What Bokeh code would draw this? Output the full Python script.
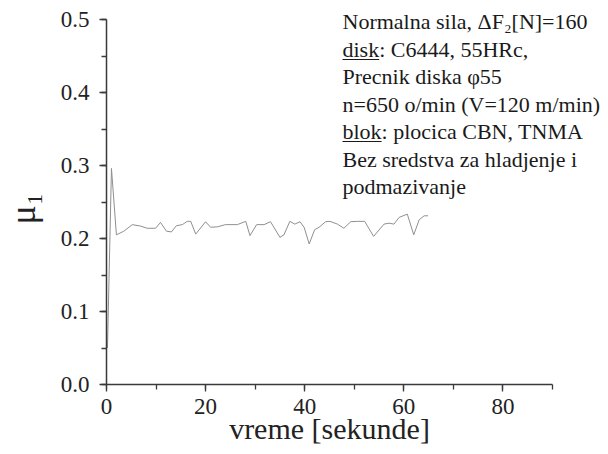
import math
from bokeh.plotting import figure
from bokeh.models import Label, SingleIntervalTicker, NumeralTickFormatter, Range1d
from bokeh.embed import file_html
from bokeh.resources import INLINE

# ---- data ----
time_s = [0.2, 1.0, 2.0, 3.5, 5.2, 6.9, 8.2, 9.9, 10.9, 12.1, 13.1, 14.1, 15.3, 16.3, 17.0,
          18.0, 20.0, 21.0, 22.4, 24.0, 26.4, 28.1, 28.95, 30.3, 31.8, 33.1, 35.0, 35.8,
          37.0, 38.0, 39.05, 39.9, 40.9, 42.0, 42.9, 44.2, 45.1, 46.6, 47.9, 49.3, 50.6,
          52.1, 53.9, 56.0, 57.0, 58.0, 59.05, 60.7, 62.0, 63.1, 64.1, 64.9]
mu_1 = [0.05, 0.296, 0.205, 0.210, 0.219, 0.217, 0.214, 0.214, 0.222, 0.210, 0.209, 0.2175,
        0.219, 0.2235, 0.2235, 0.206, 0.223, 0.2154, 0.216, 0.219, 0.219, 0.2235, 0.204,
        0.219, 0.219, 0.223, 0.2016, 0.205, 0.2235, 0.2197, 0.223, 0.215, 0.1925, 0.212,
        0.2154, 0.223, 0.2235, 0.2197, 0.214, 0.223, 0.2235, 0.2235, 0.2029, 0.2197, 0.221,
        0.2197, 0.2289, 0.2334, 0.205, 0.2257, 0.2311, 0.2311]
x_limits = (0, 90)
y_limits = (0, 0.5)
x_ticks_interval = 20
y_ticks_interval = 0.1
x_title = "vreme [sekunde]"
y_title = "\u03bc\u2081"
note_lines = [
    "Normalna sila, \u0394F\u2082[N]=160",
    "disk: C6444, 55HRc,",
    "Precnik diska \u03c655",
    "n=650 o/min (V=120 m/min)",
    "blok: plocica CBN, TNMA",
    "Bez sredstva za hladjenje i",
    "podmazivanje",
]
underlined_words = {1: "disk", 4: "blok"}

FONT = "Liberation Serif"
AX = "#3a3a3a"
W, H = 608, 454

# reference layout in canvas pixels: x=0 at 106, x=90 at 552; y=0 at 384, y=0.5 at 19
X0_PX, X1_PX, Y0_PX, Y1_PX = 106, 552, 384, 19
sx = (X1_PX - X0_PX) / (x_limits[1] - x_limits[0])
sy = (Y0_PX - Y1_PX) / (y_limits[1] - y_limits[0])

def px_x(px):
    return x_limits[0] + (px - X0_PX) / sx

def px_y(py):
    return y_limits[0] + (Y0_PX - py) / sy

# the plot frame spans the whole canvas; the axes sit at x=0 and y=0 inside it,
# so that no tick label or text is clipped
p = figure(width=W, height=H, output_backend="svg", toolbar_location=None,
           x_range=Range1d(px_x(0), px_x(W)), y_range=Range1d(px_y(H), px_y(0)),
           min_border_left=0, min_border_right=0, min_border_top=0, min_border_bottom=0)
p.outline_line_color = None
p.grid.grid_line_color = None
p.background_fill_color = "white"
p.border_fill_color = "white"

p.line(time_s, mu_1, line_color="#8f8f8f", line_width=1)

for ax in (p.xaxis[0], p.yaxis[0]):
    ax.axis_line_color = AX
    ax.axis_line_width = 1.5
    ax.major_tick_line_color = AX
    ax.minor_tick_line_color = AX
    ax.major_tick_line_width = 1.3
    ax.minor_tick_line_width = 1.3
    ax.major_tick_in = 0
    ax.minor_tick_in = 0
    ax.major_tick_out = 7
    ax.minor_tick_out = 5
    ax.major_label_text_font = FONT
    ax.major_label_text_font_size = "23px"
    ax.major_label_text_color = "#222222"

p.xaxis.bounds = x_limits
p.yaxis.bounds = y_limits
p.xaxis.fixed_location = y_limits[0]
p.yaxis.fixed_location = x_limits[0]
p.xaxis.ticker = SingleIntervalTicker(interval=x_ticks_interval, num_minor_ticks=2)
p.yaxis.ticker = SingleIntervalTicker(interval=y_ticks_interval, num_minor_ticks=2)
p.yaxis.formatter = NumeralTickFormatter(format="0.0")
p.xaxis.major_label_standoff = 7
p.yaxis.major_label_standoff = 10

# axis titles
p.add_layout(Label(x=(x_limits[0] + x_limits[1]) / 2, y=px_y(428), text=x_title,
                   text_font=FONT, text_font_size="30px", text_color="#222222",
                   text_baseline="alphabetic", text_align="center"))
p.add_layout(Label(x=px_x(22), y=px_y(208), text=y_title, angle=math.pi / 2,
                   text_font=FONT, text_font_size="36px", text_color="#222222",
                   text_baseline="middle", text_align="center"))

# annotation block
note_x = 342
baselines = [27, 55, 82, 110, 137, 165, 192]
word_w = {"disk": 36.7, "blok": 39.1}
for i, (txt, by) in enumerate(zip(note_lines, baselines)):
    p.add_layout(Label(x=px_x(note_x), y=px_y(by - 6), text=txt, text_font=FONT,
                       text_font_size="22px", text_color="#1a1a1a",
                       text_baseline="alphabetic", text_align="left"))
    if i in underlined_words:
        w = word_w[underlined_words[i]]
        p.segment(x0=[px_x(note_x)], y0=[px_y(by + 4)], x1=[px_x(note_x + w)], y1=[px_y(by + 4)],
                  line_color="#1a1a1a", line_width=1.2)

open("out.html", "w").write(file_html(p, INLINE))
